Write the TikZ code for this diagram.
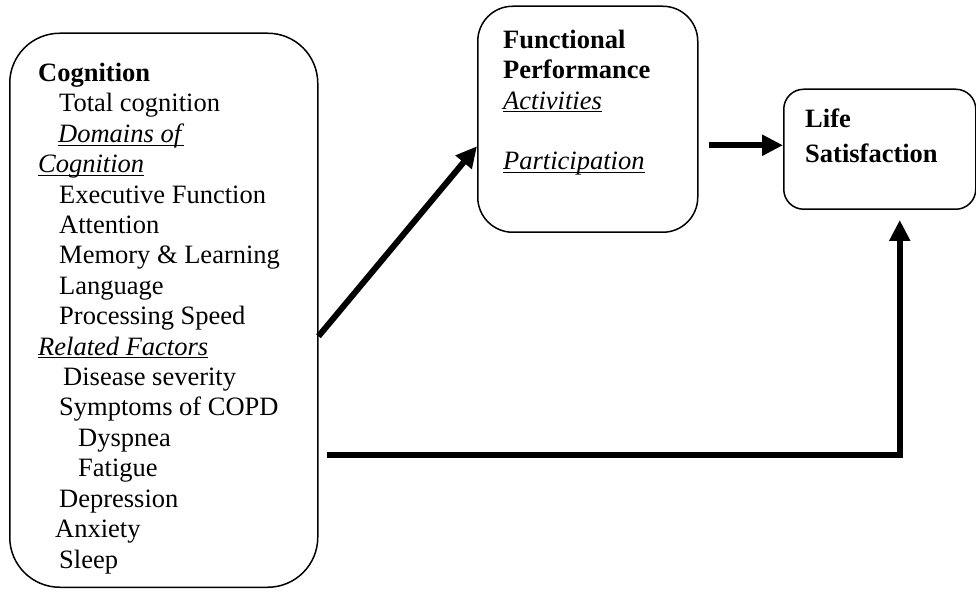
\documentclass[tikz,border=0pt]{standalone}
\usepackage{fontspec}
\setmainfont{Liberation Serif}
\usepackage{tikz}
\usetikzlibrary{
  arrows.meta,
  calc,
  positioning,
}
\newlength\undlwd
\newcommand\undlit[1]{\settowidth\undlwd{\textit{#1}}\textit{#1}\hspace*{-\undlwd}\rule[-3.2pt]{\undlwd}{1pt}}
\tikzstyle{box} = [
  rectangle,
  draw,
  line width=1.5pt,
  anchor=south west,
]
% base west = baseline of the last line
\tikzstyle{boxtext} = [
  align=left,
  anchor=base west,
  inner sep=0pt,
  font=\fontsize{26.5}{30.4}\selectfont,
]
\tikzstyle{arrow} = [
  -{Triangle[length=21pt,width=20pt]},
  line width=6pt,
]

\begin{document}
\begin{tikzpicture}[x=1pt,y=1pt]
      \useasboundingbox (0,0) rectangle (976,591);

      \node[box,rounded corners=50pt,minimum width=308,minimum height=554] (cogbox)  at (9,3)     {};
      \node[box,rounded corners=35pt,minimum width=220,minimum height=226] (funcbox) at (477,358) {};
      \node[box,rounded corners=20pt,minimum width=192,minimum height=120] (lifebox) at (783,381) {};

      \node[boxtext] (cogtext) at ([xshift=29pt,yshift=20pt]cogbox.south west) {%
        \textbf{Cognition}\\
        \hspace*{21pt}Total cognition\\
        \hspace*{20pt}\undlit{Domains of}\\
        \undlit{Cognition}\\
        \hspace*{21pt}Executive Function\\
        \hspace*{21pt}Attention\\
        \hspace*{21pt}Memory \& Learning\\
        \hspace*{21pt}Language\\
        \hspace*{21pt}Processing Speed\\
        \undlit{Related Factors}\\
        \hspace*{25pt}Disease severity\\
        \hspace*{21pt}Symptoms of COPD\\
        \hspace*{40pt}Dyspnea\\
        \hspace*{40pt}Fatigue\\
        \hspace*{21pt}Depression\\
        \hspace*{17pt}Anxiety\\
        \hspace*{21pt}Sleep};
      \node[boxtext] (functext) at ([xshift=26pt,yshift=63pt]funcbox.south west) {%
        \textbf{Functional}\\
        \textbf{Performance}\\
        \undlit{Activities}\\[30.4pt]
        \undlit{Participation}};
      \node[boxtext,font=\fontsize{26.5}{35}\selectfont] (lifetext) at ([xshift=22pt,yshift=47pt]lifebox.south west) {%
        \textbf{Life}\\
        \textbf{Satisfaction}};

      \coordinate (lifein) at ([yshift=4pt]lifebox.west);
      \coordinate (lifeup) at ([xshift=20pt,yshift=-10pt]lifebox.south);

      \draw[arrow] ([yshift=-26pt]cogbox.east) -- ([yshift=-27pt]funcbox.west);
      \draw[arrow] ([xshift=10pt]funcbox.east |- lifein) -- (lifein);
      \draw[arrow] ([xshift=8pt,yshift=-145pt]cogbox.east) -| (lifeup);
    \end{tikzpicture}
\end{document}
